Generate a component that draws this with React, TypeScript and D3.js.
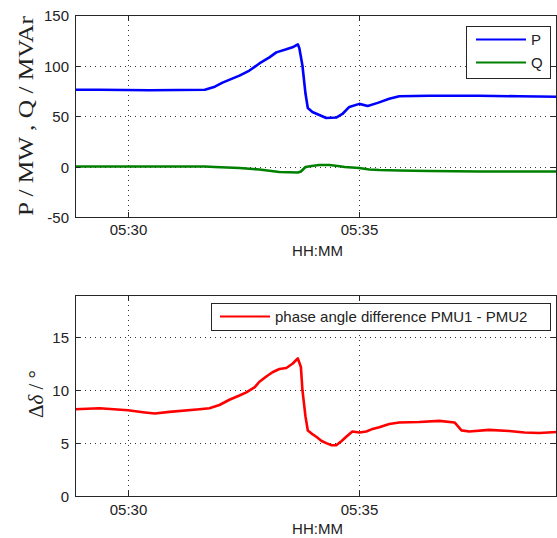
import React from "react";
import * as d3 from "d3";

// ---- data ----
const pTimes = ["05:28:51","05:29:23","05:30:28","05:31:40","05:31:53","05:32:03","05:32:25","05:32:38","05:32:51","05:33:04","05:33:13","05:33:26","05:33:34","05:33:41","05:33:43","05:33:47","05:33:51","05:33:54","05:34:00","05:34:09","05:34:18","05:34:31","05:34:39","05:34:48","05:35:01","05:35:12","05:35:25","05:35:40","05:35:53","05:36:32","05:37:37","05:38:29","05:39:18"];
const pValues = [76,76,75.5,76,79,83,90,95,102,108,113,116,118,121,117,100,72,58,54,51,48,48.5,52,59,62,60,63,67,69.5,70,70,69.5,69];

const qTimes = ["05:28:51","05:31:40","05:31:53","05:32:25","05:32:51","05:33:17","05:33:41","05:33:45","05:33:51","05:33:59","05:34:09","05:34:22","05:34:33","05:34:42","05:35:01","05:35:14","05:35:27","05:35:53","05:36:32","05:37:37","05:39:18"];
const qValues = [0,0,-0.5,-1.5,-3,-5.5,-6,-5,-0.5,0.5,1.5,1.5,0.5,-0.5,-1.5,-3,-3.5,-4,-4.5,-5,-5];

const dTimes = ["05:28:51","05:29:23","05:30:00","05:30:22","05:30:35","05:30:54","05:31:33","05:31:46","05:31:59","05:32:12","05:32:25","05:32:34","05:32:45","05:32:51","05:33:00","05:33:08","05:33:17","05:33:26","05:33:34","05:33:41","05:33:45","05:33:47","05:33:51","05:33:54","05:33:59","05:34:05","05:34:12","05:34:18","05:34:25","05:34:31","05:34:38","05:34:44","05:34:52","05:35:01","05:35:10","05:35:17","05:35:27","05:35:40","05:35:53","05:36:19","05:36:45","05:37:05","05:37:14","05:37:24","05:37:50","05:38:16","05:38:36","05:38:55","05:39:18"];
const dValues = [8.2,8.3,8.1,7.9,7.8,7.95,8.2,8.3,8.6,9.1,9.5,9.8,10.3,10.8,11.3,11.7,12.0,12.1,12.5,13.0,12.2,10,7.5,6.2,5.9,5.6,5.2,5.0,4.8,4.8,5.2,5.6,6.1,6.0,6.1,6.3,6.5,6.8,6.95,7.0,7.1,6.95,6.2,6.1,6.25,6.15,6.0,5.95,6.05];

const xTickTimes = ["05:30:00", "05:35:00"];
const topYTicks = [-50, 0, 50, 100, 150];
const botYTicks = [0, 5, 10, 15];
const xDomain = ["05:28:51", "05:39:17"];

const parse = d3.timeParse("%H:%M:%S");
const fmt = d3.timeFormat("%H:%M");

const L = 75, R = 556;
const axisColor = "#262626";
const tickFont = "'Liberation Sans', Arial, sans-serif";

function Panel({ top, bottom, yDomain, yTicks, children, xLabelY, tickLabelY }: any) {
  const x = d3.scaleTime().domain(xDomain.map((s) => parse(s)!)).range([L, R]);
  const y = d3.scaleLinear().domain(yDomain).range([bottom, top]);
  const tl = 5;
  return (
    <g>
      {/* grid */}
      {yTicks.filter((t: number) => t !== yDomain[0] && t !== yDomain[1]).map((t: number) => (
        <line key={"gy" + t} x1={L} x2={R} y1={Math.round(y(t)) + 0.5} y2={Math.round(y(t)) + 0.5} stroke="#333" strokeWidth={1} strokeDasharray="1,4" />
      ))}
      {xTickTimes.map((s) => {
        const xx = Math.round(x(parse(s)!)) + 0.5;
        return <line key={"gx" + s} x1={xx} x2={xx} y1={top} y2={bottom} stroke="#333" strokeWidth={1} strokeDasharray="1,4" />;
      })}
      {children(x, y)}
      {/* frame */}
      <rect x={L + 0.5} y={top + 0.5} width={R - L} height={bottom - top} fill="none" stroke={axisColor} strokeWidth={1} />
      {/* ticks */}
      {yTicks.map((t: number) => {
        const yy = Math.round(y(t)) + 0.5;
        return (
          <g key={"ty" + t}>
            <line x1={L} x2={L + tl} y1={yy} y2={yy} stroke={axisColor} />
            <line x1={R - tl} x2={R} y1={yy} y2={yy} stroke={axisColor} />
            <text x={L - 6} y={yy} dy="0.35em" textAnchor="end" fontSize={15} fontFamily={tickFont} fill="#222">{t}</text>
          </g>
        );
      })}
      {xTickTimes.map((s) => {
        const xx = Math.round(x(parse(s)!)) + 0.5;
        return (
          <g key={"tx" + s}>
            <line x1={xx} x2={xx} y1={bottom - tl} y2={bottom} stroke={axisColor} />
            <line x1={xx} x2={xx} y1={top} y2={top + tl} stroke={axisColor} />
            <text x={xx} y={tickLabelY} textAnchor="middle" fontSize={15} fontFamily={tickFont} fill="#222">{fmt(parse(s)!)}</text>
          </g>
        );
      })}
      <text x={(L + R) / 2 + 2} y={xLabelY} textAnchor="middle" fontSize={15} fontFamily={tickFont} fill="#222">HH:MM</text>
    </g>
  );
}

function series(times: string[], values: number[]) {
  return times.map((t, i) => ({ t: parse(t)!, v: values[i] }));
}

export default function App() {
  const P = series(pTimes, pValues);
  const Q = series(qTimes, qValues);
  const D = series(dTimes, dValues);
  const mk = (x: any, y: any) => d3.line<any>().x((d) => x(d.t)).y((d) => y(d.v));
  return (
    <svg width={557} height={538} style={{ position: "absolute", left: 0, top: 0, background: "#fff" }}>
      <rect x={0} y={0} width={557} height={538} fill="#fff" />
      <Panel top={15} bottom={217} yDomain={[-50, 150]} yTicks={topYTicks} tickLabelY={235} xLabelY={256}>
        {(x: any, y: any) => (
          <g>
            <path d={mk(x, y)(P) || ""} fill="none" stroke="#0000ff" strokeWidth={2.6} strokeLinejoin="round" />
            <path d={mk(x, y)(Q) || ""} fill="none" stroke="#008000" strokeWidth={2.6} strokeLinejoin="round" />
          </g>
        )}
      </Panel>
      <Panel top={295} bottom={496} yDomain={[0, 19]} yTicks={botYTicks} tickLabelY={515} xLabelY={534}>
        {(x: any, y: any) => (
          <path d={mk(x, y)(D) || ""} fill="none" stroke="#ff0000" strokeWidth={2.6} strokeLinejoin="round" />
        )}
      </Panel>
      {/* top legend */}
      <rect x={466.5} y={26.5} width={84} height={52} fill="#fff" stroke={axisColor} />
      <line x1={476} x2={526} y1={39.5} y2={39.5} stroke="#0000ff" strokeWidth={2} />
      <line x1={476} x2={526} y1={62.5} y2={62.5} stroke="#008000" strokeWidth={2} />
      <text x={531} y={40} dy="0.35em" fontSize={15} fontFamily={tickFont} fill="#222">P</text>
      <text x={531} y={63} dy="0.35em" fontSize={15} fontFamily={tickFont} fill="#222">Q</text>
      {/* bottom legend */}
      <rect x={211.5} y={303.5} width={339} height={27} fill="#fff" stroke={axisColor} />
      <line x1={220} x2={270} y1={316.5} y2={316.5} stroke="#ff0000" strokeWidth={2} />
      <text x={275} y={317} dy="0.35em" fontSize={15} fontFamily={tickFont} fill="#222">phase angle difference PMU1 - PMU2</text>
      {/* y labels */}
      <text transform="translate(33,116) rotate(-90)" textAnchor="middle" fontSize={22} fontFamily="'Liberation Serif', 'Times New Roman', serif" fill="#222" textLength={200} lengthAdjust="spacingAndGlyphs">P / MW , Q / MVAr</text>
      <text transform="translate(43,394) rotate(-90)" textAnchor="middle" fontSize={21} fontFamily="'Liberation Serif', 'Times New Roman', serif" fill="#222">
        <tspan>Δ</tspan><tspan fontStyle="italic">δ</tspan><tspan> / °</tspan>
      </text>
    </svg>
  );
}
